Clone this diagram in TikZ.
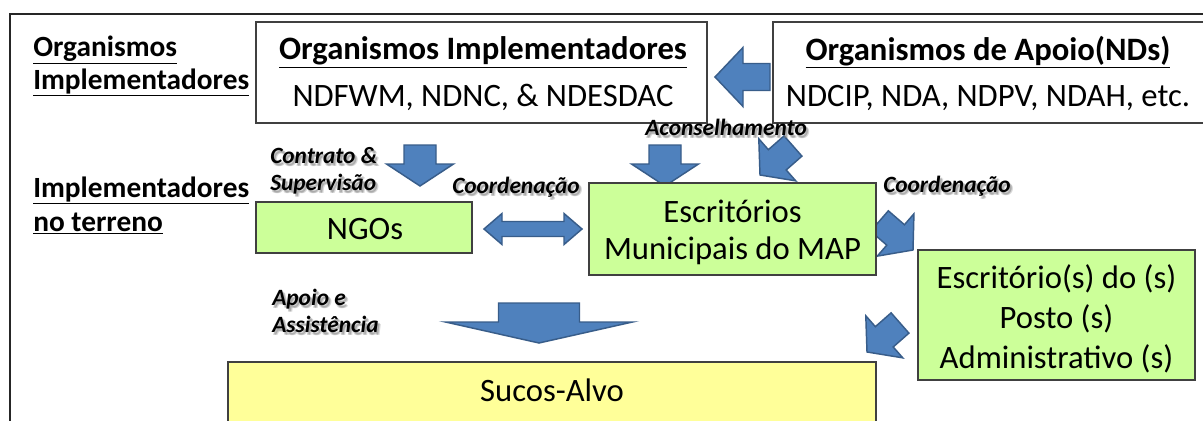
\documentclass[tikz,border=0pt]{standalone}
\usepackage{fontspec}
\setmainfont{Carlito}
\usetikzlibrary{calc}
\definecolor{abl}{HTML}{4F81BD}
\definecolor{abd}{HTML}{385D8A}
\definecolor{gbox}{HTML}{CCFF99}
\definecolor{ybox}{HTML}{FFFF99}
\definecolor{bord}{HTML}{404040}
\tikzset{
 box/.style={draw=bord, line width=1pt, inner sep=0pt, align=center, font=\fontsize{24.5}{30}\selectfont},
 wbox/.style={box, fill=white},
 gbx/.style={box, fill=gbox},
 ybx/.style={box, fill=ybox},
 plain/.style={inner sep=0pt, align=center, font=\fontsize{24.5}{30}\selectfont},
 barrow/.style={fill=abl, draw=abd, line width=1.1pt, line join=miter},
 side/.style={font=\fontsize{22}{26}\selectfont\bfseries, anchor=base west, inner sep=0pt},
 lbl/.style={font=\fontsize{17.5}{21}\selectfont\bfseries\itshape, anchor=base west, inner sep=0pt},
 lblsh/.style={lbl, text=black!50, opacity=0.3},
}
\newcommand{\blockarr}[5]{% tail, tip, shaft, headw, headl
  \path ($(#2)!{#5*0.75pt}!(#1)$) coordinate (ba-b);
  \filldraw[barrow] (#2) -- ($(ba-b)!{#4*0.375pt}!90:(#1)$) -- ($(ba-b)!{#3*0.375pt}!90:(#1)$)
    -- ($(#1)!{#3*0.375pt}!-90:(#2)$) -- ($(#1)!{#3*0.375pt}!90:(#2)$)
    -- ($(ba-b)!{#3*0.375pt}!-90:(#1)$) -- ($(ba-b)!{#4*0.375pt}!-90:(#1)$) -- cycle;
}
\newcommand{\dblarr}[5]{% left tip, right tip, shaft, headw, headl
  \path ($(#1)!{#5*0.75pt}!(#2)$) coordinate (da-l) ($(#2)!{#5*0.75pt}!(#1)$) coordinate (da-r);
  \filldraw[barrow] (#1) -- ($(da-l)!{#4*0.375pt}!90:(#2)$) -- ($(da-l)!{#3*0.375pt}!90:(#2)$)
    -- ($(da-r)!{#3*0.375pt}!-90:(#1)$) -- ($(da-r)!{#4*0.375pt}!-90:(#1)$) -- (#2)
    -- ($(da-r)!{#4*0.375pt}!90:(#1)$) -- ($(da-r)!{#3*0.375pt}!90:(#1)$)
    -- ($(da-l)!{#3*0.375pt}!-90:(#2)$) -- ($(da-l)!{#4*0.375pt}!-90:(#2)$) -- cycle;
}
\newcommand{\shlab}[3]{%
  \node[lblsh] (#1sha) at ($(#2)+(2,2)$) {#3};
  \node[lblsh] (#1shb) at ($(#2)+(3,3)$) {#3};
  \node[lblsh] (#1shc) at ($(#2)+(1.5,3)$) {#3};
  \node[lbl] (#1) at (#2) {#3};}
\begin{document}
\begin{tikzpicture}[x=0.75pt,y=-0.75pt]
\useasboundingbox (0,0) rectangle (1203,421);
\clip (0,0) rectangle (1203,421);
\fill[white] (0,0) rectangle (1203,421);
% frame
\draw[line width=1.6pt, black!85] (1215,14) -- (10,14) -- (10,440);
% arrows
\coordinate (a1t) at (770,77); \coordinate (a1p) at (715,77);
\blockarr{a1t}{a1p}{27}{59}{28}
\coordinate (a2t) at (420,145); \coordinate (a2p) at (420,186);
\blockarr{a2t}{a2p}{32}{67}{22}
\coordinate (a3t) at (665,145); \coordinate (a3p) at (665,186);
\blockarr{a3t}{a3p}{32}{67}{22}
\coordinate (a4t) at (793,146); \coordinate (a4p) at (760,175);
\blockarr{a4t}{a4p}{27}{56}{23}
\coordinate (a5t) at (879.5,221); \coordinate (a5p) at (913,250);
\blockarr{a5t}{a5p}{27}{56}{23}
\coordinate (a6t) at (900,323); \coordinate (a6p) at (867,352);
\blockarr{a6t}{a6p}{27}{56}{23}
\coordinate (a7t) at (539,303); \coordinate (a7p) at (539,343);
\blockarr{a7t}{a7p}{81}{187}{21}
\coordinate (d1) at (484,229); \coordinate (d2) at (582,229);
\dblarr{d1}{d2}{15}{31}{18}
% boxes
\node[wbox, minimum width={451*0.75pt}, minimum height={101*0.75pt}] (impl) at (481.5,72.5) {};
\node[plain] (impltxt) at (483,73.5)
  {\textbf{\underline{Organismos Implementadores}}\\[5pt] NDFWM, NDNC, \& NDESDAC};
\node[wbox, minimum width={450*0.75pt}, minimum height={101*0.75pt}] (apoio) at (998,72.5) {};
\node[plain] (apoiotxt) at (988,73.5)
  {\textbf{\underline{Organismos de Apoio(NDs)}}\\[5pt] NDCIP, NDA, NDPV, NDAH, etc.};
\node[gbx, minimum width={216*0.75pt}, minimum height={51*0.75pt}] (ngo) at (364,227.5) {};
\node[plain] (ngotxt) at (365,229) {NGOs};
\node[gbx, minimum width={287*0.75pt}, minimum height={92*0.75pt}] (mun) at (732.5,229) {};
\node[plain] (muntxt) at (732.5,232.5) {Escritórios\\[-2pt] Municipais do MAP};
\node[gbx, minimum width={277*0.75pt}, minimum height={130*0.75pt}] (posto) at (1056.5,315) {};
\node[plain] (postotxt) at (1056.5,319) {Escritório(s) do (s)\\ Posto (s)\\ Administrativo (s)};
\node[ybx, minimum width={648*0.75pt}, minimum height={68*0.75pt}] (sucos) at (552,396) {};
\node[plain] (sucostxt) at (552,390) {Sucos-Alvo};
% side labels
\node[side] (s1) at (33,56) {\underline{Organismos}};
\node[side] (s2) at (33,89) {\underline{Implementadores}};
\node[side] (s3) at (33,197) {\underline{Implementadores}};
\node[side] (s4) at (33,231) {\underline{no terreno}};
% italic labels
\shlab{l1}{270,163}{Contrato \&}
\shlab{l2}{270,190}{Supervisão}
\shlab{l3}{452,193}{Coordenação}
\shlab{l4}{645,135}{Aconselhamento}
\shlab{l5}{883,192}{Coordenação}
\shlab{l6}{272,305}{Apoio e}
\shlab{l7}{272,332}{Assistência}
\end{tikzpicture}
\end{document}
